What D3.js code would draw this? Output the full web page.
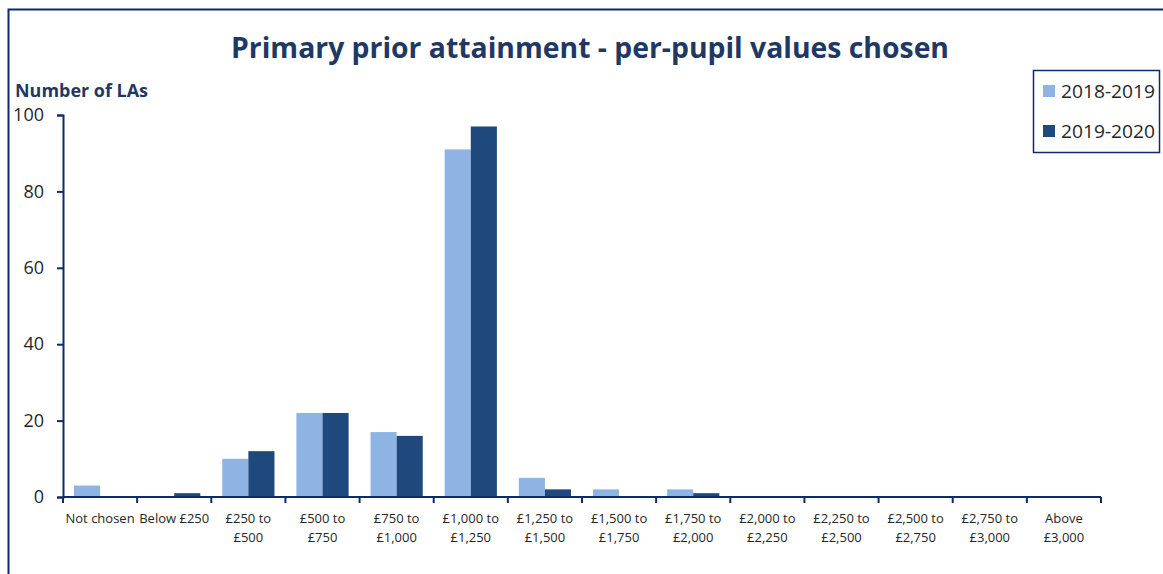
<!DOCTYPE html>
<html>
<head>
<meta charset="utf-8">
<script src="https://cdn.jsdelivr.net/npm/d3@7"></script>
<style>
  body { margin: 0; background: #fff; }
  text { font-family: "Open Sans", "Noto Sans", sans-serif; }
</style>
</head>
<body>
<svg id="chart" width="1163" height="574"></svg>
<script>
// data
var categories = [
    ["Not chosen"], ["Below £250"], ["£250 to", "£500"], ["£500 to", "£750"],
    ["£750 to", "£1,000"], ["£1,000 to", "£1,250"], ["£1,250 to", "£1,500"],
    ["£1,500 to", "£1,750"], ["£1,750 to", "£2,000"], ["£2,000 to", "£2,250"],
    ["£2,250 to", "£2,500"], ["£2,500 to", "£2,750"], ["£2,750 to", "£3,000"],
    ["Above", "£3,000"]
    ];
var seriesNames = ["2018-2019", "2019-2020"];
var values2018 = [3, 0, 10, 22, 17, 91, 5, 2, 2, 0, 0, 0, 0, 0];
var values2019 = [0, 1, 12, 22, 16, 97, 2, 0, 1, 0, 0, 0, 0, 0];
var yTicks = [0, 20, 40, 60, 80, 100];

var colours = ["#8EB4E3", "#1F497D"];
var navy = "#0E2A6B";

var svg = d3.select("#chart");

// outer frame (cut off right/bottom like the reference)
svg.append("rect")
    .attr("x", 8.5).attr("y", 9.5)
    .attr("width", 1200).attr("height", 620)
    .attr("fill", "none")
    .attr("stroke", navy)
    .attr("stroke-width", 2);

var x0 = 63, x1 = 1101, yTop = 115, yBottom = 497;

var keys = categories.map(function(c, i) { return i; });
var x = d3.scaleBand().domain(keys).range([x0, x1]).paddingInner(0).paddingOuter(0);
var xs = d3.scaleBand().domain([0, 1]).range([0, x.bandwidth()]).paddingInner(0).paddingOuter(0.42);
var y = d3.scaleLinear().domain([0, 100]).range([yBottom, yTop]);

// title
svg.append("text")
    .attr("x", 590).attr("y", 58)
    .attr("text-anchor", "middle")
    .attr("font-size", 28)
    .attr("font-weight", "bold")
    .attr("fill", "#1F3864")
    .attr("textLength", 718)
    .attr("lengthAdjust", "spacingAndGlyphs")
    .text("Primary prior attainment - per-pupil values chosen");

svg.append("text")
    .attr("x", 15).attr("y", 97)
    .attr("font-size", 17)
    .attr("font-weight", "bold")
    .attr("fill", "#1F3864")
    .attr("textLength", 133)
    .attr("lengthAdjust", "spacingAndGlyphs")
    .text("Number of LAs");

// bars
var rows = keys.map(function(i) {
    return { key: i, vals: [values2018[i], values2019[i]] };
});
var groups = svg.append("g").selectAll("g")
    .data(rows)
    .join("g")
    .attr("transform", function(d) { return "translate(" + x(d.key) + ",0)"; });
groups.selectAll("rect")
    .data(function(d) { return d.vals.map(function(v, s) { return { s: s, v: v }; }); })
    .join("rect")
    .attr("x", function(d) { return xs(d.s); })
    .attr("width", xs.bandwidth())
    .attr("y", function(d) { return y(d.v); })
    .attr("height", function(d) { return yBottom - y(d.v); })
    .attr("fill", function(d) { return colours[d.s]; });

// y axis
var yAxis = svg.append("g")
    .attr("transform", "translate(" + x0 + ",0)")
    .call(d3.axisLeft(y).tickValues(yTicks).tickSize(6).tickPadding(13));
yAxis.select(".domain").attr("stroke", navy).attr("stroke-width", 2);
yAxis.selectAll(".tick line").attr("stroke", navy).attr("stroke-width", 2);
yAxis.selectAll(".tick text")
    .attr("font-size", 18)
    .attr("fill", "#262626")
    .attr("font-family", "'Open Sans', sans-serif");

// x axis: tick marks at category boundaries
var boundaries = keys.concat([keys.length]);
var xAxis = svg.append("g");
xAxis.append("line")
    .attr("x1", x0).attr("x2", x1)
    .attr("y1", yBottom).attr("y2", yBottom)
    .attr("stroke", navy).attr("stroke-width", 2);
xAxis.selectAll("line.tick")
    .data(boundaries)
    .join("line")
    .attr("class", "tick")
    .attr("x1", function(i) { return x0 + i * x.step(); })
    .attr("x2", function(i) { return x0 + i * x.step(); })
    .attr("y1", yBottom).attr("y2", yBottom + 6)
    .attr("stroke", navy).attr("stroke-width", 2);

var labels = xAxis.selectAll("text")
    .data(rows)
    .join("text")
    .attr("text-anchor", "middle")
    .attr("font-size", 13)
    .attr("fill", "#262626");
labels.selectAll("tspan")
    .data(function(d) {
        return categories[d.key].map(function(t, j) {
            return { t: t, j: j, cx: x(d.key) + x.bandwidth() / 2 };
        });
    })
    .join("tspan")
    .attr("x", function(d) { return d.cx; })
    .attr("y", function(d) { return 523 + d.j * 19; })
    .text(function(d) { return d.t; });

// legend
var legend = svg.append("g");
legend.append("rect")
    .attr("x", 1033.5).attr("y", 70.5)
    .attr("width", 126).attr("height", 82)
    .attr("fill", "#fff")
    .attr("stroke", navy)
    .attr("stroke-width", 1.5);
var items = legend.selectAll("g")
    .data(seriesNames)
    .join("g")
    .attr("transform", function(d, i) { return "translate(1043," + (85 + i * 40) + ")"; });
items.append("rect")
    .attr("width", 12).attr("height", 12)
    .attr("fill", function(d, i) { return colours[i]; });
items.append("text")
    .attr("x", 18).attr("y", 13)
    .attr("font-size", 18)
    .attr("fill", "#262626")
    .attr("textLength", 94)
    .attr("lengthAdjust", "spacingAndGlyphs")
    .text(function(d) { return d; });
</script>
</body>
</html>
